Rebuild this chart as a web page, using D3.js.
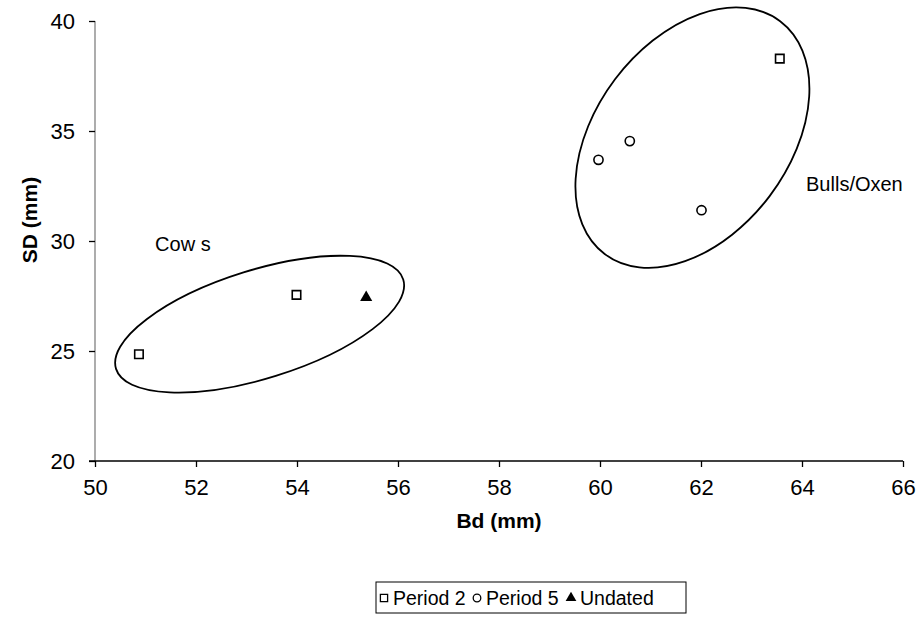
<!DOCTYPE html>
<html>
<head>
<meta charset="utf-8">
<script src="https://cdn.jsdelivr.net/npm/d3@7/dist/d3.min.js"></script>
<style>
  body { margin: 0; background: #fff; }
  text { font-family: Arial, "Liberation Sans", sans-serif; }
</style>
</head>
<body>
<div id="chart"></div>
<script>
// series values, Bd (mm) vs SD (mm)
var period2 = [{ bd: 50.87, sd: 24.85 }, { bd: 53.99, sd: 27.55 }, { bd: 63.56, sd: 38.29 }];
var period5 = [{ bd: 59.97, sd: 33.69 }, { bd: 60.59, sd: 34.54 }, { bd: 62.01, sd: 31.40 }];
var undated = [{ bd: 55.37, sd: 27.43 }];

var xTicks = [50, 52, 54, 56, 58, 60, 62, 64, 66];
var yTicks = [20, 25, 30, 35, 40];

var legendLabels = ["Period 2", "Period 5", "Undated"];

// group outlines (centre in data units) and their labels
var groupNames = ["Cow s", "Bulls/Oxen"];
var groupCentres = [[53.26, 26.22], [61.83, 34.70]];
var groupLabelAt = [[51.19, 29.56], [64.08, 32.29]];

var svg = d3.select("#chart")
    .append("svg")
    .attr("width", 919)
    .attr("height", 627),
    margin = { top: 21, right: 16, bottom: 166, left: 95 },
    width = +svg.attr("width") - margin.left - margin.right,
    height = +svg.attr("height") - margin.top - margin.bottom;

var g = svg.append("g")
    .attr("transform", "translate(" + margin.left + "," + margin.top + ")");

var x = d3.scaleLinear().domain([50, 66]).range([0, width]);
var y = d3.scaleLinear().domain([20, 40]).range([height, 0]);

// Y axis
var yAxis = g.append("g")
    .call(d3.axisLeft(y).tickValues(yTicks).tickSize(6).tickPadding(14));
yAxis.select(".domain").attr("stroke", "#808080").attr("stroke-width", 1.3)
    .attr("d", "M0," + height + "V0");
yAxis.selectAll(".tick line").attr("stroke", "#000").attr("stroke-width", 1.3);
yAxis.selectAll(".tick text").attr("font-size", 22).attr("fill", "#000")
    .attr("font-family", "Arial, 'Liberation Sans', sans-serif");

// X axis
var xAxis = g.append("g")
    .attr("transform", "translate(0," + height + ")")
    .call(d3.axisBottom(x).tickValues(xTicks).tickSize(6).tickPadding(12).tickSizeOuter(0));
xAxis.select(".domain").attr("stroke", "#000").attr("stroke-width", 1.3)
    .attr("d", "M-6,0H" + width);
xAxis.selectAll(".tick line").attr("stroke", "#000").attr("stroke-width", 1.3);
xAxis.selectAll(".tick text").attr("font-size", 22).attr("fill", "#000")
    .attr("font-family", "Arial, 'Liberation Sans', sans-serif");

// axis titles
g.append("text")
    .attr("transform", "rotate(-90)")
    .attr("x", -(height / 2) + 21)
    .attr("y", -58)
    .attr("text-anchor", "middle")
    .attr("font-size", 21)
    .attr("font-weight", "bold")
    .text("SD (mm)");

g.append("text")
    .attr("x", width / 2)
    .attr("y", height + 67)
    .attr("text-anchor", "middle")
    .attr("font-size", 21)
    .attr("font-weight", "bold")
    .text("Bd (mm)");

// group ellipses, radii in px and tilt in degrees
var outlineShape = [{ rx: 150.4, ry: 54.2, angle: -17.3 }, { rx: 145.8, ry: 96.9, angle: -53 }];
outlineShape.forEach(function (o, i) {
    g.append("ellipse")
        .attr("transform", "translate(" + x(groupCentres[i][0]) + "," + y(groupCentres[i][1]) + ") rotate(" + o.angle + ")")
        .attr("rx", o.rx)
        .attr("ry", o.ry)
        .attr("fill", "none")
        .attr("stroke", "#000")
        .attr("stroke-width", 1.8);
    g.append("text")
        .attr("x", x(groupLabelAt[i][0]))
        .attr("y", y(groupLabelAt[i][1]))
        .attr("font-size", 20)
        .text(groupNames[i]);
});

var square = d3.symbol().type(d3.symbolSquare).size(72);
var triangle = d3.symbol().type(d3.symbolTriangle).size(64);

g.selectAll(".p2")
    .data(period2)
    .enter().append("path")
    .attr("class", "p2")
    .attr("transform", function (d) { return "translate(" + x(d.bd) + "," + y(d.sd) + ")"; })
    .attr("d", square)
    .attr("fill", "#fff")
    .attr("stroke", "#000")
    .attr("stroke-width", 1.6);

g.selectAll(".p5")
    .data(period5)
    .enter().append("circle")
    .attr("class", "p5")
    .attr("cx", function (d) { return x(d.bd); })
    .attr("cy", function (d) { return y(d.sd); })
    .attr("r", 4.6)
    .attr("fill", "#fff")
    .attr("stroke", "#000")
    .attr("stroke-width", 1.6);

g.selectAll(".und")
    .data(undated)
    .enter().append("path")
    .attr("class", "und")
    .attr("transform", function (d) { return "translate(" + x(d.bd) + "," + y(d.sd) + ")"; })
    .attr("d", triangle)
    .attr("fill", "#000");

// legend
var legend = svg.append("g").attr("transform", "translate(376,582)");
legend.append("rect")
    .attr("width", 310)
    .attr("height", 31)
    .attr("fill", "#fff")
    .attr("stroke", "#000")
    .attr("stroke-width", 1);

var legendX = [8, 101, 195];
legendLabels.forEach(function (lab, i) {
    var item = legend.append("g").attr("transform", "translate(" + legendX[i] + ",16)");
    if (i === 0) {
        item.append("path").attr("d", d3.symbol().type(d3.symbolSquare).size(52))
            .attr("fill", "#fff").attr("stroke", "#000").attr("stroke-width", 1.3);
    } else if (i === 1) {
        item.append("circle").attr("r", 3.8)
            .attr("fill", "#fff").attr("stroke", "#000").attr("stroke-width", 1.3);
    } else {
        item.append("path").attr("d", d3.symbol().type(d3.symbolTriangle).size(50))
            .attr("fill", "#000");
    }
    item.append("text")
        .attr("x", 9)
        .attr("y", 7)
        .attr("font-size", 19.5)
        .text(lab);
});
</script>
</body>
</html>
